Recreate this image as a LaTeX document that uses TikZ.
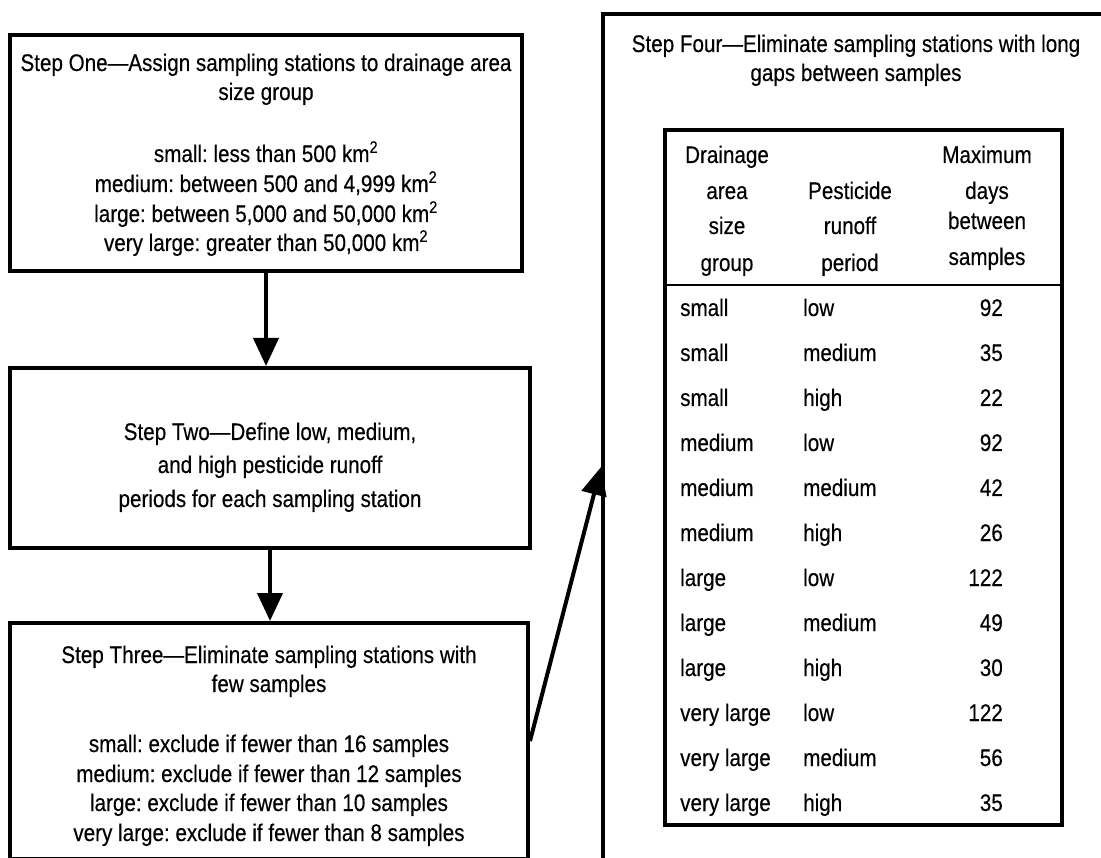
\documentclass[tikz,border=0pt]{standalone}
\usepackage{fontspec}
\setmainfont{Liberation Sans}[FakeStretch=0.86,FakeBold=0.35]
\usetikzlibrary{arrows.meta}
\frenchspacing
\begin{document}
\begin{tikzpicture}[x=1pt,y=-1pt,
  box/.style={draw=black, line width=4pt, rectangle, inner sep=0pt, fill=none},
  txt/.style={font=\fontsize{24}{30}\selectfont, align=center, inner sep=0pt, anchor=base},
  cellL/.style={font=\fontsize{24}{30}\selectfont, inner sep=0pt, anchor=base west},
  cellR/.style={font=\fontsize{24}{30}\selectfont, inner sep=0pt, anchor=base east},
  cellC/.style={font=\fontsize{24}{30}\selectfont, inner sep=0pt, anchor=base},
  flow/.style={line width=4pt, -{Triangle[length=28pt,width=25pt]}}]
\useasboundingbox (0,0) rectangle (1101,858);
\clip (0,0) rectangle (1101,858);
% boxes
\node[box, minimum width=512pt, minimum height=236pt] (s1) at (266,153) {};
\node[box, minimum width=520pt, minimum height=180pt] (s2) at (270,458) {};
\node[box, minimum width=518pt, minimum height=236pt] (s3) at (269,741) {};
\node[box, minimum width=540pt, minimum height=906pt] (s4) at (873,467) {};
\node[box, minimum width=397pt, minimum height=695pt] (tab) at (863.5,477.5) {};
% texts
\node[txt] (t1a) at (266,71) {Step One---Assign sampling stations to drainage area};
\node[txt] (t1b) at (266,100) {size group};
\node[txt] (t1c) at (266,162) {small: less than 500 km\textsuperscript{2}};
\node[txt] (t1d) at (266,192) {medium: between 500 and 4,999 km\textsuperscript{2}};
\node[txt] (t1e) at (266,222) {large: between 5,000 and 50,000 km\textsuperscript{2}};
\node[txt] (t1f) at (266,251) {very large: greater than 50,000 km\textsuperscript{2}};
\node[txt] (t2a) at (270,440) {Step Two---Define low, medium,};
\node[txt] (t2b) at (270,473) {and high pesticide runoff};
\node[txt] (t2c) at (270,507) {periods for each sampling station};
\node[txt] (t3a) at (269,663) {Step Three---Eliminate sampling stations with};
\node[txt] (t3b) at (269,692) {few samples};
\node[txt] (t3c) at (269,752) {small: exclude if fewer than 16 samples};
\node[txt] (t3d) at (269,782) {medium: exclude if fewer than 12 samples};
\node[txt] (t3e) at (269,811) {large: exclude if fewer than 10 samples};
\node[txt] (t3f) at (269,841) {very large: exclude if fewer than 8 samples};
\node[txt] (t4a) at (856,52) {Step Four---Eliminate sampling stations with long};
\node[txt] (t4b) at (856,81) {gaps between samples};
% table header
\node[cellC] (h1a) at (727,163) {Drainage};
\node[cellC] (h1b) at (727,199) {area};
\node[cellC] (h1c) at (727,234) {size};
\node[cellC] (h1d) at (727,271) {group};
\node[cellC] (h2a) at (850,199) {Pesticide};
\node[cellC] (h2b) at (850,234) {runoff};
\node[cellC] (h2c) at (850,271) {period};
\node[cellC] (h3a) at (987,163) {Maximum};
\node[cellC] (h3b) at (987,199) {days};
\node[cellC] (h3c) at (987,229) {between};
\node[cellC] (h3d) at (987,265) {samples};
\coordinate (hl) at (665,285);
\coordinate (hr) at (1062,285);
\draw[line width=2.5pt] (hl) -- (hr);
% rows
\foreach \a/\b/\c [count=\i from 0] in {small/low/92, small/medium/35, small/high/22, medium/low/92, medium/medium/42, medium/high/26, large/low/122, large/medium/49, large/high/30, very large/low/122, very large/medium/56, very large/high/35}{
  \node[cellL] (ra\i) at (680,316+45*\i) {\a};
  \node[cellL] (rb\i) at (803,316+45*\i) {\b};
  \node[cellR] (rc\i) at (1003,316+45*\i) {\c};
}
% connectors
\draw[flow] (s1.south) -- (s1.south |- s2.north);
\draw[flow] (s2.south) -- (s2.south |- s3.north);
\draw[flow] (s3.east) -- (s4.west);
\end{tikzpicture}
\end{document}
